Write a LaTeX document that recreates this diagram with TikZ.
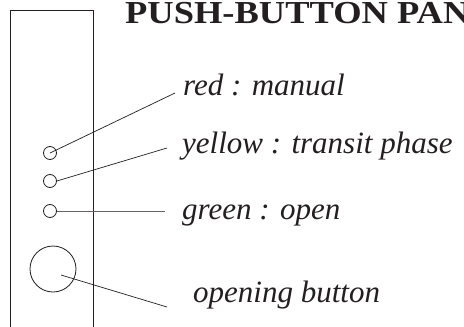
\documentclass[tikz,border=0pt]{standalone}
\usepackage{fontspec}
\setmainfont{Liberation Serif}
\usepackage{graphicx}
\definecolor{ink}{HTML}{231F20}
\tikzset{
  lbl/.style={anchor=base west, inner sep=0pt, text=ink, font=\fontsize{31}{36}\selectfont\itshape},
  lamp/.style={circle, draw=ink, line width=0.8pt, minimum size=13pt, inner sep=0pt},
  knob/.style={circle, draw=ink, line width=0.8pt, minimum size=46pt, inner sep=0pt},
  lead/.style={draw=ink, line width=0.7pt},
  panel/.style={draw=ink, line width=0.9pt}
}
\begin{document}
\begin{tikzpicture}[x=1pt,y=-1pt]
\clip (0,0) rectangle (464,327);
\fill[white] (0,0) rectangle (464,327);
% panel
\draw[panel] (10,340) -- (10,10) -- (93,10) -- (93,340);
% title
\node[anchor=base west, inner sep=0pt, text=ink] (title) at (125,23)
  {\scalebox{1.14}[1]{\fontsize{32}{36}\selectfont\bfseries PUSH-BUTTON PANEL}};
% lamps and button
\node[lamp] (red) at (50,153) {};
\node[lamp] (yellow) at (50,181) {};
\node[lamp] (green) at (50,211) {};
\node[knob] (button) at (53,269) {};
% labels
\node[lbl] (lred) at (183,95) {red : manual};
\node[lbl] (lyellow) at (182,153) {yellow : transit phase};
\node[lbl] (lgreen) at (182,219) {green : open};
\node[lbl] (lbutton) at (193,302) {opening button};
% leader ends
\coordinate (ered) at (175,93);
\coordinate (eyellow) at (167,148);
\coordinate (egreen) at (165,211);
\coordinate (ebutton) at (167,307);
\coordinate (sbutton) at (61,275);
% leaders
\draw[lead] (red.center) -- (ered);
\draw[lead] (yellow.east) -- (eyellow);
\draw[lead, draw=ink!70] (green.east) -- (egreen);
\draw[lead] (sbutton) -- (ebutton);
\end{tikzpicture}
\end{document}
